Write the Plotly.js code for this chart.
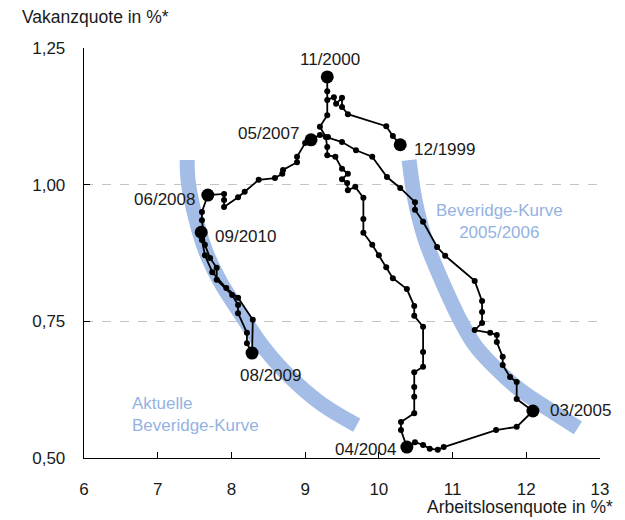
<!DOCTYPE html>
<html>
<head>
<meta charset="utf-8">
<script src="https://cdn.plot.ly/plotly-3.0.1.min.js"></script>
<style>html,body{margin:0;padding:0;background:#fff;}#chart{width:625px;height:520px;}</style>
</head>
<body>
<div id="chart"></div>
<script>
// Arbeitslosenquote (x) und Vakanzquote (y), monatlicher Pfad 12/1999 - 09/2010
const unemployment = [10.29,10.19,10.10,9.58,9.50,9.50,9.42,9.39,9.30,9.30,9.30,
  9.30,9.20,9.28,9.30,9.30,9.41,9.50,9.58,9.50,9.57,9.58,9.68,9.79,9.79,9.79,9.91,10.00,10.10,10.19,
  10.38,10.48,10.48,10.60,10.60,10.60,10.48,10.48,10.48,10.48,10.30,10.30,10.38,
  10.49,10.60,10.69,10.80,10.88,11.59,11.87,12.09,
  11.87,11.87,11.78,11.68,11.68,11.60,11.60,11.51,11.30,11.40,11.40,11.40,11.30,10.90,10.79,10.60,
  10.49,10.49,10.29,10.11,9.91,9.69,9.50,9.31,9.20,9.08,
  9.00,8.89,8.89,8.70,8.69,8.59,8.37,8.18,8.09,7.90,7.90,7.90,7.68,
  7.60,7.60,7.64,7.71,7.80,7.80,8.01,8.09,8.09,8.21,8.21,8.28,
  8.29,8.09,7.93,7.74,7.64,7.60,7.59];
const vacancy = [1.073,1.089,1.107,1.129,1.142,1.159,1.148,1.160,1.155,1.171,1.197,
  1.127,1.106,1.087,1.069,1.054,1.051,1.029,1.020,1.010,1.003,0.990,0.996,0.976,0.937,0.912,0.890,0.871,0.849,0.829,
  0.809,0.778,0.760,0.740,0.694,0.667,0.657,0.630,0.612,0.582,0.566,0.551,0.520,
  0.529,0.524,0.517,0.515,0.520,0.551,0.557,0.586,
  0.608,0.639,0.648,0.670,0.685,0.712,0.725,0.729,0.734,0.747,0.767,0.787,0.824,0.870,0.886,0.932,
  0.954,0.968,0.994,1.014,1.051,1.063,1.078,1.087,1.091,1.082,
  1.076,1.051,1.041,1.027,1.020,1.012,1.009,0.987,0.977,0.959,0.972,0.983,0.981,
  0.950,0.935,0.890,0.866,0.848,0.826,0.798,0.780,0.765,0.729,0.710,0.692,
  0.753,0.793,0.811,0.840,0.871,0.899,0.913];

// Hervorgehobene Zeitpunkte
const keyIndex  = [0, 10, 42, 50, 76, 89, 101, 108];
const keyLabels = ["12/1999","11/2000","04/2004","03/2005","05/2007","06/2008","08/2009","09/2010"];

// Beveridge-Kurven (schematisch)
const bevCurrentX = [7.40,7.42,7.63,7.85,8.12,8.41,8.70,9.20,9.70];
const bevCurrentY = [1.045,0.999,0.886,0.822,0.765,0.707,0.661,0.601,0.560];
const bev0506X = [10.41,10.49,10.63,10.79,10.95,11.10,11.30,11.58,11.91,12.32,12.70];
const bev0506Y = [1.045,0.972,0.899,0.844,0.795,0.753,0.707,0.665,0.625,0.588,0.555];

const yTicks = [0.50,0.75,1.00,1.25];
const xTicks = [6,7,8,9,10,11,12,13];

const FONT = "Liberation Sans, Arial, sans-serif";
const BLUE = "#a3bde6";
const BLUE_TXT = "#94b2e2";

const traces = [
  {x: bevCurrentX, y: bevCurrentY, mode: "lines", line: {color: BLUE, width: 15, shape: "spline"}, hoverinfo: "skip"},
  {x: bev0506X, y: bev0506Y, mode: "lines", line: {color: BLUE, width: 15, shape: "spline"}, hoverinfo: "skip"},
  {x: unemployment, y: vacancy, mode: "lines+markers", line: {color: "#000", width: 1.8},
   marker: {color: "#000", size: 6}},
  {x: keyIndex.map(i => unemployment[i]), y: keyIndex.map(i => vacancy[i]), mode: "markers",
   marker: {color: "#000", size: 13}}
];

const labelStyle = {
  "12/1999": {xanchor: "left",   xshift: 12,  yshift: -5},
  "11/2000": {xanchor: "center", xshift: 3,   yshift: 17},
  "04/2004": {xanchor: "right",  xshift: -9,  yshift: -2},
  "03/2005": {xanchor: "left",   xshift: 15,  yshift: 0},
  "05/2007": {xanchor: "right",  xshift: -10, yshift: 6},
  "06/2008": {xanchor: "right",  xshift: -11, yshift: -4},
  "08/2009": {xanchor: "left",   xshift: -14, yshift: -22},
  "09/2010": {xanchor: "left",   xshift: 12,  yshift: -4}
};

const annotations = keyIndex.map((i, k) => Object.assign({
  x: unemployment[i], y: vacancy[i], text: keyLabels[k], showarrow: false,
  yanchor: "middle", font: {family: FONT, size: 17, color: "#1a1a1a"}
}, labelStyle[keyLabels[k]]));

annotations.push(
  {x: 6.62, y: 0.58, xref: "x", yref: "y", text: "Aktuelle<br>Beveridge-Kurve", showarrow: false,
   xanchor: "left", yanchor: "middle", align: "left", font: {family: FONT, size: 17, color: BLUE_TXT}},
  {x: 11.64, y: 0.932, xref: "x", yref: "y", text: "Beveridge-Kurve<br>2005/2006", showarrow: false,
   xanchor: "center", yanchor: "middle", align: "center", font: {family: FONT, size: 17, color: BLUE_TXT}},
  {x: -0.124, y: 1.0756, xref: "paper", yref: "paper", text: "Vakanzquote in %*", showarrow: false,
   xanchor: "left", yanchor: "middle", font: {family: FONT, size: 17.5, color: "#1a1a1a"}},
  {x: 1.029, y: -0.1195, xref: "paper", yref: "paper", text: "Arbeitslosenquote in %*", showarrow: false,
   xanchor: "right", yanchor: "middle", font: {family: FONT, size: 17.5, color: "#1a1a1a"}}
);

const layout = {
  width: 625, height: 520,
  margin: {l: 84, r: 25, t: 48, b: 62},
  paper_bgcolor: "#fff", plot_bgcolor: "#fff",
  showlegend: false,
  separators: ",.",
  font: {family: FONT, size: 17, color: "#1a1a1a"},
  xaxis: {range: [6, 13], tickvals: xTicks, ticktext: xTicks.map(String), showgrid: false, zeroline: false,
          showline: true, linecolor: "#000", linewidth: 1.3, ticks: "inside", ticklen: 6, tickcolor: "#000",
          tickfont: {family: FONT, size: 17, color: "#1a1a1a"}, ticklabelstandoff: 15, fixedrange: true},
  yaxis: {range: [0.5, 1.25], tickvals: yTicks, tickformat: ".2f", showgrid: true, gridcolor: "#c4c4c4",
          griddash: "dash", gridwidth: 1, zeroline: false,
          showline: true, linecolor: "#000", linewidth: 1.3, ticks: "inside", ticklen: 6, tickcolor: "#000",
          tickfont: {family: FONT, size: 17, color: "#1a1a1a"}, ticklabelstandoff: 14, fixedrange: true},
  annotations: annotations
};

Plotly.newPlot("chart", traces, layout, {displayModeBar: false, staticPlot: true});
</script>
</body>
</html>
